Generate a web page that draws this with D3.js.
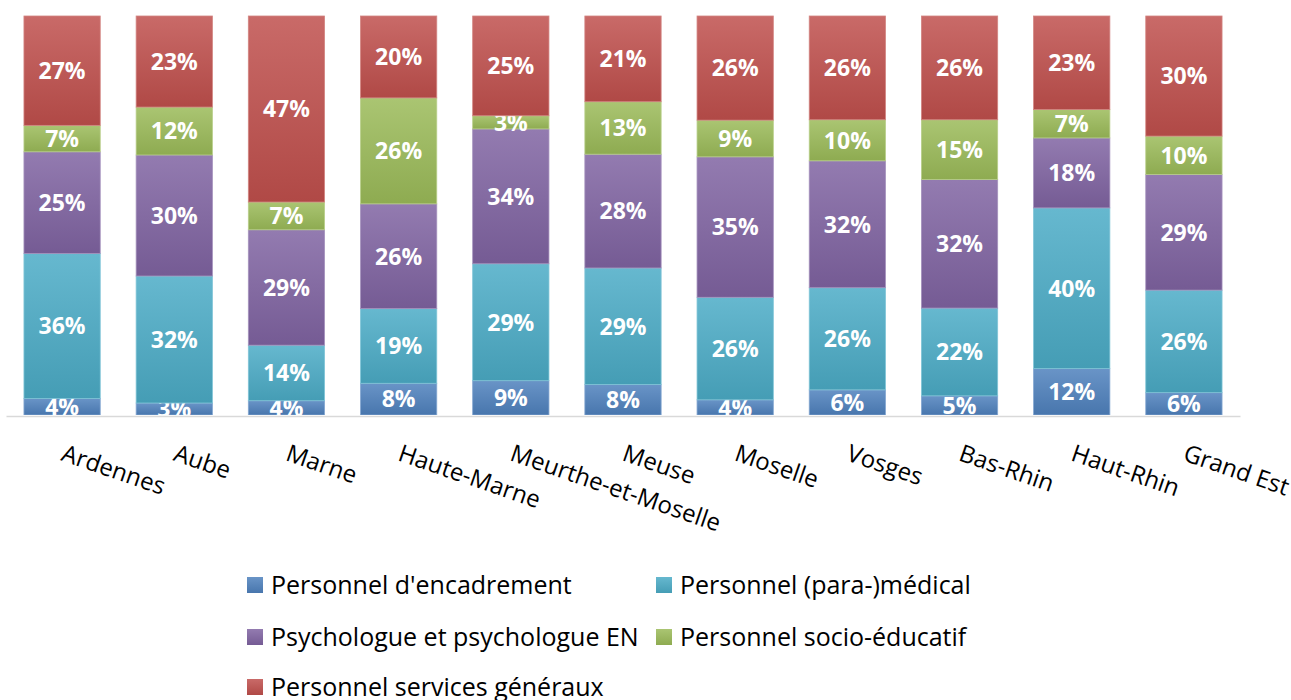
<!DOCTYPE html>
<html>
<head>
<meta charset="utf-8">
<script src="https://cdn.jsdelivr.net/npm/d3@7"></script>
<style>
  body { margin: 0; background: #fff; }
  text { font-family: "Open Sans", sans-serif; }
</style>
</head>
<body>
<div id="chart"></div>
<script>
// categories and series (values in %)
var categories = ["Ardennes", "Aube", "Marne", "Haute-Marne", "Meurthe-et-Moselle", "Meuse", "Moselle", "Vosges", "Bas-Rhin", "Haut-Rhin", "Grand Est"];
var seriesNames = ["Personnel d'encadrement", "Personnel (para-)médical", "Psychologue et psychologue EN", "Personnel socio-éducatif", "Personnel services généraux"];
var encadrement = [4.1, 3.0, 3.6, 7.9, 8.6, 7.6, 3.8, 6.3, 4.8, 11.6, 5.6];
var paramedical = [36.2, 31.8, 14.0, 18.6, 29.3, 29.1, 25.7, 25.6, 22.0, 40.2, 25.7];
var psychologue = [25.4, 30.3, 29.1, 26.1, 33.8, 28.4, 35.2, 31.8, 32.2, 17.5, 29.0];
var socioeducatif = [6.6, 12.0, 7.0, 26.4, 3.3, 13.1, 9.2, 10.3, 15.0, 7.1, 9.6];
var servicesGeneraux = [27.3, 22.8, 46.9, 20.4, 25.0, 21.4, 26.1, 26.0, 26.0, 23.4, 30.1];
var colors = ["#4f81bd", "#4bacc6", "#8064a2", "#9bbb59", "#c0504d"];

var svgwidth = 1291, svgheight = 700;
var plot = {left: 6, right: 1240, top: 16, bottom: 415};

var seriesValues = [encadrement, paramedical, psychologue, socioeducatif, servicesGeneraux];
var rows = categories.map(function(c, i) {
    var r = {cat: c};
    seriesNames.forEach(function(s, j) { r[s] = seriesValues[j][i]; });
    return r;
});

var stack = d3.stack().keys(seriesNames).offset(d3.stackOffsetExpand);
var layers = stack(rows);

var svg = d3.select("#chart").append("svg").attr("width", svgwidth).attr("height", svgheight);

var defs = svg.append("defs");
colors.forEach(function(c, i) {
    var g = defs.append("linearGradient").attr("id", "grad" + i)
        .attr("x1", 0).attr("y1", 0).attr("x2", 0).attr("y2", 1);
    g.append("stop").attr("offset", "0%").attr("stop-color", d3.interpolateRgb(c, "#fff")(0.15));
    g.append("stop").attr("offset", "100%").attr("stop-color", d3.color(c).darker(0.25));
});
defs.append("clipPath").attr("id", "plotclip").append("rect")
    .attr("x", plot.left).attr("y", plot.top - 2).attr("width", plot.right - plot.left).attr("height", plot.bottom - plot.top + 2);

var xscale = d3.scaleBand().domain(categories).range([plot.left, plot.right]).paddingInner(0.32).paddingOuter(0.16);
var yscale = d3.scaleLinear().domain([0, 1]).range([plot.bottom, plot.top]);

var bars = svg.append("g").attr("clip-path", "url(#plotclip)");

var groups = bars.selectAll("g.layer").data(layers).enter().append("g").attr("class", "layer");
groups.selectAll("rect").data(function(d, i) { return d.map(function(p) { return {p: p, i: i}; }); })
    .enter().append("rect")
    .attr("x", function(d) { return xscale(d.p.data.cat); })
    .attr("width", xscale.bandwidth())
    .attr("y", function(d) { return yscale(d.p[1]); })
    .attr("height", function(d) { return yscale(d.p[0]) - yscale(d.p[1]); })
    .attr("fill", function(d) { return "url(#grad" + d.i + ")"; })
    .attr("stroke", function(d) { return d3.interpolateRgb(colors[d.i], "#fff")(0.3); })
    .attr("stroke-width", 0.8);

groups.selectAll("text").data(function(d, i) { return d.map(function(p) { return {p: p, i: i}; }); })
    .enter().append("text")
    .attr("x", function(d) { return xscale(d.p.data.cat) + xscale.bandwidth() / 2; })
    .attr("y", function(d) { return (yscale(d.p[0]) + yscale(d.p[1])) / 2; })
    .attr("dy", "0.36em")
    .attr("text-anchor", "middle")
    .attr("fill", "#fff")
    .attr("font-weight", "bold")
    .attr("font-size", 23)
    .text(function(d) { return Math.round(d.p.data[seriesNames[d.i]]) + "%"; });

// x axis
var axis = svg.append("g").attr("transform", "translate(0," + 416 + ")")
    .call(d3.axisBottom(xscale).tickSize(0).tickSizeOuter(0));
axis.select(".domain").attr("stroke", "#d9d9d9").attr("stroke-width", 1.5);
axis.selectAll(".tick text")
    .attr("font-family", "Open Sans, sans-serif")
    .attr("font-size", 24)
    .attr("fill", "#000")
    .attr("text-anchor", "start")
    .attr("x", -2).attr("y", 44).attr("dy", 0)
    .attr("transform", "rotate(19, -2, 44)");

// legend
var legendPos = [[247, 585], [656, 585], [247, 637], [656, 637], [247, 687]];
var legend = svg.append("g");
seriesNames.forEach(function(s, i) {
    var lg = legend.append("g").attr("transform", "translate(" + legendPos[i][0] + "," + legendPos[i][1] + ")");
    lg.append("rect").attr("x", 0).attr("y", -8).attr("width", 16).attr("height", 16).attr("fill", "url(#grad" + i + ")");
    lg.append("text").attr("x", 24).attr("y", 9).attr("font-size", 25).attr("fill", "#000").text(s);
});
</script>
</body>
</html>
